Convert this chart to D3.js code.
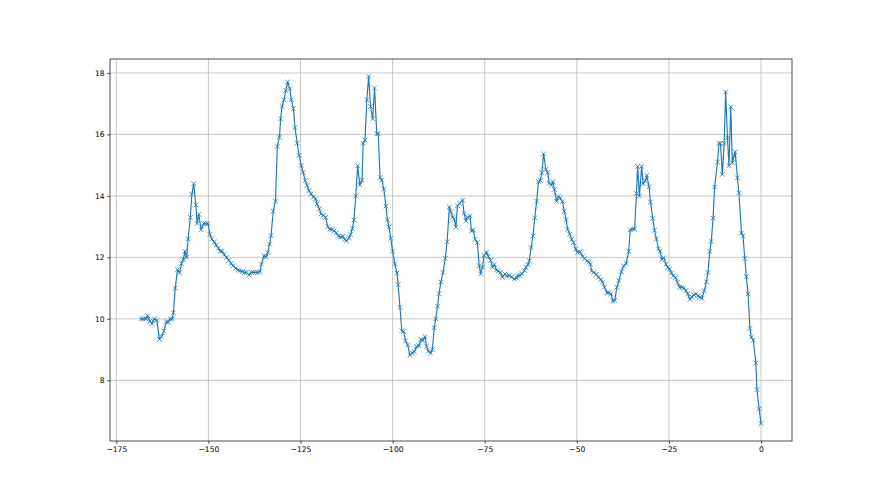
<!DOCTYPE html>
<html>
<head>
<meta charset="utf-8">
<script src="https://cdn.jsdelivr.net/npm/d3@7"></script>
<style>
  html, body { margin: 0; padding: 0; background: #ffffff; }
  svg text { font-family: "DejaVu Sans", sans-serif; font-size: 7.6px; fill: #000; }
</style>
</head>
<body>
<div id="chart"></div>
<script>
// x positions of the samples
var xs = [
  -168.3, -167.7, -167.0, -166.5, -165.9, -165.3, -164.7, -164.0, -163.3, -162.7,
  -162.1, -161.4, -160.9, -160.3, -159.8, -159.5, -159.0, -158.4, -157.8, -157.3,
  -156.8, -156.4, -155.9, -155.5, -154.9, -154.5, -154.0, -153.4, -153.1, -152.6,
  -152.0, -151.3, -150.7, -150.1, -149.6, -149.1, -148.4, -147.9, -147.3, -146.8,
  -146.3, -145.7, -145.1, -144.5, -143.8, -143.3, -142.6, -142.0, -141.5, -140.8,
  -140.2, -139.7, -139.0, -138.4, -137.8, -137.2, -136.6, -136.0, -135.6, -134.9,
  -134.3, -133.9, -133.4, -133.0, -132.4, -131.8, -131.3, -130.7, -130.4, -130.0,
  -129.5, -129.0, -128.5, -127.9, -127.5, -126.9, -126.5, -125.9, -125.4, -124.8,
  -124.3, -123.7, -123.2, -122.7, -122.1, -121.5, -120.9, -120.5, -119.9, -119.4,
  -118.8, -118.2, -117.6, -117.0, -116.4, -115.9, -115.3, -114.7, -114.1, -113.5,
  -113.0, -112.5, -111.8, -111.4, -110.9, -110.5, -110.0, -109.5, -108.9, -108.3,
  -108.0, -107.5, -107.0, -106.5, -106.0, -105.4, -104.9, -104.3, -103.9, -103.4,
  -102.9, -102.4, -101.8, -101.4, -101.0, -100.5, -100.0, -99.4, -98.8, -98.5,
  -98.0, -97.5, -97.0, -96.5, -95.9, -95.3, -94.7, -94.1, -93.5, -92.9,
  -92.3, -91.8, -91.2, -90.8, -90.3, -89.7, -89.2, -88.7, -88.3, -87.8,
  -87.4, -86.9, -86.3, -85.7, -85.2, -84.6, -84.2, -83.7, -83.3, -82.8,
  -82.4, -81.8, -81.0, -80.6, -80.1, -79.7, -79.0, -78.6, -78.1, -77.6,
  -77.0, -76.5, -76.1, -75.6, -75.2, -74.5, -74.0, -73.4, -72.9, -72.4,
  -71.8, -71.3, -70.7, -70.2, -69.5, -69.0, -68.3, -67.7, -67.0, -66.3,
  -66.0, -65.4, -64.9, -64.2, -63.8, -63.3, -62.9, -62.4, -61.9, -61.4,
  -60.9, -60.4, -59.9, -59.5, -59.0, -58.4, -57.9, -57.5, -56.9, -56.5,
  -56.1, -55.5, -55.0, -54.5, -53.9, -53.4, -52.9, -52.5, -51.9, -51.4,
  -50.9, -50.3, -49.8, -49.1, -48.4, -47.9, -47.2, -46.7, -46.3, -46.0,
  -45.4, -44.7, -44.1, -43.5, -43.0, -42.5, -41.8, -41.3, -40.7, -40.2,
  -39.7, -39.1, -38.6, -37.9, -37.3, -36.6, -35.9, -35.5, -34.8, -34.3,
  -33.8, -33.5, -33.0, -32.4, -32.0, -31.4, -31.0, -30.4, -30.0, -29.4,
  -28.9, -28.4, -27.8, -27.4, -26.9, -26.4, -25.8, -25.3, -24.8, -24.3,
  -23.8, -23.2, -22.7, -22.1, -21.5, -21.0, -20.4, -19.9, -19.3, -18.8,
  -18.2, -17.6, -17.1, -16.6, -16.0, -15.4, -14.8, -14.4, -13.9, -13.5,
  -13.0, -12.6, -11.8, -11.4, -11.0, -10.5, -10.0, -9.6, -9.1, -8.7,
  -8.2, -7.8, -7.3, -7.0, -6.4, -6.0, -5.3, -4.9, -4.4, -4.0,
  -3.5, -3.0, -2.6, -2.1, -1.4, -1.1, -0.5, 0.0
];

// y values at those samples
var ys = [
  10.0, 10.0, 10.0, 10.1, 9.92, 9.84, 10.0, 9.95, 9.33, 9.43,
  9.6, 9.9, 9.9, 10.0, 10.0, 10.2, 11.0, 11.6, 11.5, 11.8,
  11.93, 12.2, 12.0, 12.6, 13.3, 14.05, 14.4, 13.7, 13.1, 13.4,
  12.9, 13.1, 13.1, 13.1, 12.75, 12.6, 12.5, 12.4, 12.3, 12.2,
  12.2, 12.1, 12.0, 11.9, 11.8, 11.73, 11.65, 11.59, 11.57, 11.54,
  11.51, 11.51, 11.43, 11.51, 11.51, 11.51, 11.51, 11.54, 11.78, 12.05,
  12.02, 12.16, 12.43, 12.71, 13.5, 13.83, 15.61, 15.91, 16.51, 16.91,
  17.13, 17.43, 17.71, 17.49, 17.13, 16.84, 16.22, 15.72, 15.32, 14.99,
  14.77, 14.5, 14.34, 14.17, 14.07, 13.96, 13.9, 13.74, 13.58, 13.41,
  13.37, 13.3, 13.0, 12.91, 12.91, 12.86, 12.8, 12.69, 12.66, 12.69,
  12.58, 12.53, 12.64, 12.75, 12.94, 13.22, 14.0, 14.98, 14.36, 14.51,
  15.71, 15.82, 17.13, 17.89, 16.91, 16.51, 17.51, 16.02, 16.02, 14.6,
  14.51, 14.22, 13.67, 13.22, 12.99, 12.62, 12.2, 11.79, 11.49, 11.11,
  10.37, 9.61, 9.59, 9.28, 9.15, 8.81, 8.89, 8.93, 9.1, 9.12,
  9.33, 9.3, 9.42, 9.11, 8.95, 8.88, 9.0, 9.71, 10.0, 10.41,
  10.82, 11.2, 11.51, 11.97, 12.51, 13.64, 13.48, 13.31, 13.26, 12.99,
  13.68, 13.76, 13.86, 13.43, 13.19, 13.3, 13.35, 12.86, 12.89, 12.59,
  12.48, 11.73, 11.46, 11.68, 12.06, 12.17, 12.03, 11.9, 11.68, 11.77,
  11.59, 11.55, 11.51, 11.35, 11.46, 11.4, 11.41, 11.36, 11.3, 11.33,
  11.41, 11.41, 11.47, 11.57, 11.68, 11.75, 11.89, 12.32, 12.7, 13.29,
  13.83, 14.47, 14.5, 14.75, 15.37, 14.86, 14.76, 14.41, 14.35, 14.46,
  14.21, 13.82, 13.98, 13.93, 13.82, 13.5, 13.23, 12.91, 12.75, 12.59,
  12.48, 12.27, 12.16, 12.18, 12.03, 11.96, 11.88, 11.85, 11.78, 11.56,
  11.51, 11.45, 11.35, 11.28, 11.19, 11.03, 10.85, 10.85, 10.81, 10.57,
  10.6, 11.03, 11.24, 11.53, 11.72, 11.8, 12.2, 12.9, 12.92, 12.92,
  14.08, 14.96, 14.0, 14.96, 14.4, 14.49, 14.67, 14.3, 13.8, 13.27,
  12.88, 12.6, 12.28, 12.2, 11.93, 11.99, 11.78, 11.67, 11.62, 11.49,
  11.4, 11.35, 11.19, 11.03, 11.03, 11.0, 10.92, 10.81, 10.63, 10.72,
  10.78, 10.81, 10.75, 10.7, 10.67, 10.92, 11.21, 11.51, 12.19, 12.52,
  13.28, 14.29, 15.1, 15.71, 15.71, 14.7, 15.71, 17.38, 15.89, 14.99,
  16.9, 15.08, 15.3, 15.43, 14.59, 14.1, 12.79, 12.7, 11.97, 11.38,
  10.81, 9.69, 9.4, 9.31, 8.57, 7.7, 7.08, 6.59
];

var xTicks = [-175, -150, -125, -100, -75, -50, -25, 0];
var yTicks = [8, 10, 12, 14, 16, 18];

var W = 880, H = 495;
var margin = { left: 110, right: 88, top: 59, bottom: 54 };
var LINE_COLOR = '#1f77b4';
var FONT_PX = 7.6;

var data = xs.map(function (x, i) { return { x: x, y: ys[i] }; });

function padded(ext) {
  var d = (ext[1] - ext[0]) * 0.05;
  return [ext[0] - d, ext[1] + d];
}

var x = d3.scaleLinear()
  .domain(padded(d3.extent(xs)))
  .range([margin.left, W - margin.right]);

var y = d3.scaleLinear()
  .domain(padded(d3.extent(ys)))
  .range([H - margin.bottom, margin.top]);

var svg = d3.select('#chart')
  .append('svg')
  .attr('width', W)
  .attr('height', H)
  .style('display', 'block')
  .style('background', '#ffffff');

var fmt = d3.format('d');

// grid
svg.append('g')
  .selectAll('line')
  .data(xTicks)
  .join('line')
  .attr('x1', function (d) { return x(d); })
  .attr('x2', function (d) { return x(d); })
  .attr('y1', margin.top)
  .attr('y2', H - margin.bottom)
  .attr('stroke', '#b0b0b0')
  .attr('stroke-width', 0.7);

svg.append('g')
  .selectAll('line')
  .data(yTicks)
  .join('line')
  .attr('x1', margin.left)
  .attr('x2', W - margin.right)
  .attr('y1', function (d) { return y(d); })
  .attr('y2', function (d) { return y(d); })
  .attr('stroke', '#b0b0b0')
  .attr('stroke-width', 0.7);

// series line
var line = d3.line()
  .x(function (d) { return x(d.x); })
  .y(function (d) { return y(d.y); });

svg.append('path')
  .datum(data)
  .attr('d', line)
  .attr('fill', 'none')
  .attr('stroke', LINE_COLOR)
  .attr('stroke-width', 1.15)
  .attr('stroke-linejoin', 'round');

// 'x' markers
var m = 2.3;
svg.append('g')
  .selectAll('path')
  .data(data)
  .join('path')
  .attr('d', function (d) {
    var cx = x(d.x), cy = y(d.y);
    return 'M' + (cx - m) + ',' + (cy - m) + 'L' + (cx + m) + ',' + (cy + m) +
           'M' + (cx - m) + ',' + (cy + m) + 'L' + (cx + m) + ',' + (cy - m);
  })
  .attr('stroke', LINE_COLOR)
  .attr('stroke-width', 0.8)
  .attr('fill', 'none');

// frame
svg.append('rect')
  .attr('x', margin.left)
  .attr('y', margin.top)
  .attr('width', W - margin.left - margin.right)
  .attr('height', H - margin.top - margin.bottom)
  .attr('fill', 'none')
  .attr('stroke', '#000')
  .attr('stroke-width', 0.7);

// axes
var xAxis = svg.append('g')
  .attr('transform', 'translate(0,' + (H - margin.bottom) + ')')
  .call(d3.axisBottom(x).tickValues(xTicks).tickSize(2.7).tickPadding(2.7).tickFormat(fmt));

var yAxis = svg.append('g')
  .attr('transform', 'translate(' + margin.left + ',0)')
  .call(d3.axisLeft(y).tickValues(yTicks).tickSize(2.7).tickPadding(2.7).tickFormat(fmt));

[xAxis, yAxis].forEach(function (a) {
  a.select('.domain').remove();
  a.selectAll('.tick line').attr('stroke', '#000').attr('stroke-width', 0.7);
  a.selectAll('.tick text')
    .style('font-family', '"DejaVu Sans", sans-serif')
    .style('font-size', FONT_PX + 'px')
    .attr('fill', '#000');
});
</script>
</body>
</html>
